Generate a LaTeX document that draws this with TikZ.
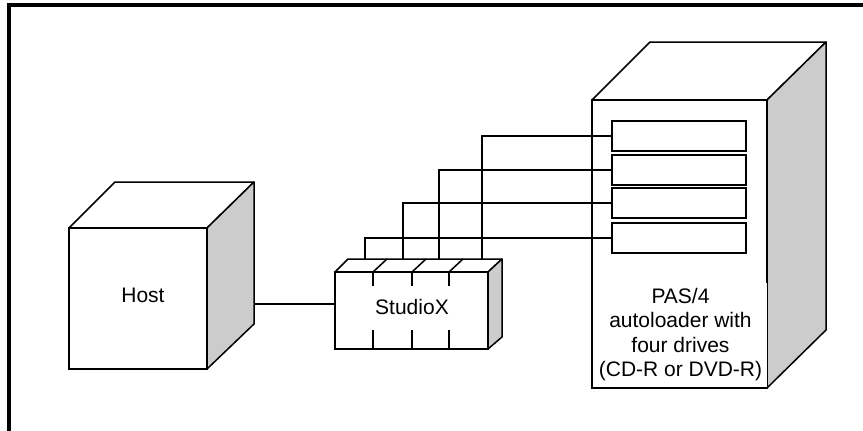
\documentclass[tikz,border=0pt]{standalone}
\usepackage{fontspec}
\setmainfont{Liberation Sans}
\tikzset{
  face/.style={draw=black,fill=white,line width=1.5pt,line join=miter,rectangle,inner sep=0pt,outer sep=0pt,font=\fontsize{21}{24.3}\selectfont,align=center},
  sideface/.style={draw=black,fill=black!20,line width=1.5pt,line join=round},
  topface/.style={draw=black,fill=white,line width=1.5pt,line join=round},
  wire/.style={draw=black,line width=1.5pt},
  drivebox/.style={face,minimum width=134pt,minimum height=30pt},
  frameline/.style={draw=black,line width=4pt}
}
\begin{document}
\begin{tikzpicture}[x=1pt,y=-1pt]
\useasboundingbox (0,0) rectangle (863,431);
\fill[white] (0,0) rectangle (863,431);
% outer frame
\draw[frameline] (8.5,431) -- (8.5,5) -- (863,5);
% Host
\draw[topface] (69,228) -- (115,182) -- (254,182) -- (207,228) -- cycle;
\draw[sideface] (207,228) -- (254,182) -- (254,324) -- (207,369) -- cycle;
\node[face,minimum width=138pt,minimum height=141pt] (host) at (138,298.5) {};
\node[font=\fontsize{21}{24}\selectfont] (hostlabel) at (143,295) {Host};
\coordinate (hostout) at (254,304);
% Tower
\draw[topface] (592,100) -- (650,42) -- (826,42) -- (767,100) -- cycle;
\draw[sideface] (767,100) -- (826,42) -- (826,330) -- (767,388) -- cycle;
\node[face,minimum width=175pt,minimum height=288pt] (tower) at (679.5,244) {};
% StudioX
\draw[topface] (335,272) -- (348,259) -- (502,259) -- (488,272) -- cycle;
\draw[sideface] (488,272) -- (502,259) -- (502,337) -- (488,349) -- cycle;
\node[face,minimum width=153pt,minimum height=77pt] (studio) at (411.5,310.5) {};
\node[font=\fontsize{21}{24}\selectfont] (studiolabel) at (412,307) {StudioX};
\draw[wire] (373,272) -- (387,259) (412,272) -- (426,259) (449,272) -- (463,259);
\draw[wire] (373,272) -- (373,286) (412,272) -- (412,286) (449,272) -- (449,286);
\draw[wire] (373,330) -- (373,349) (412,330) -- (412,349) (449,330) -- (449,349);
% drives
\node[drivebox] (d1) at (679,136) {};
\node[drivebox] (d2) at (679,170) {};
\node[drivebox] (d3) at (679,203) {};
\node[drivebox] (d4) at (679,238) {};
% connectors
\coordinate (p1) at (482,259);
\coordinate (p2) at (439,259);
\coordinate (p3) at (403,259);
\coordinate (p4) at (365,259);
\draw[wire] (p1) |- (d1.west);
\draw[wire] (p2) |- (d2.west);
\draw[wire] (p3) |- (d3.west);
\draw[wire] (p4) |- (d4.west);
\draw[wire] (hostout) -- (studio.west |- hostout);
% tower label on white patch
\node[fill=white,inner sep=0pt,outer sep=0pt,minimum width=174pt,minimum height=104pt] (towerlabel) at (680,334.5) {};
\node[font=\fontsize{21}{24.3}\selectfont,align=center,inner sep=0pt] (towertext) at (680.5,334.5) {PAS/4\\autoloader with\\four drives\\(CD-R or DVD-R)};
\end{tikzpicture}
\end{document}
